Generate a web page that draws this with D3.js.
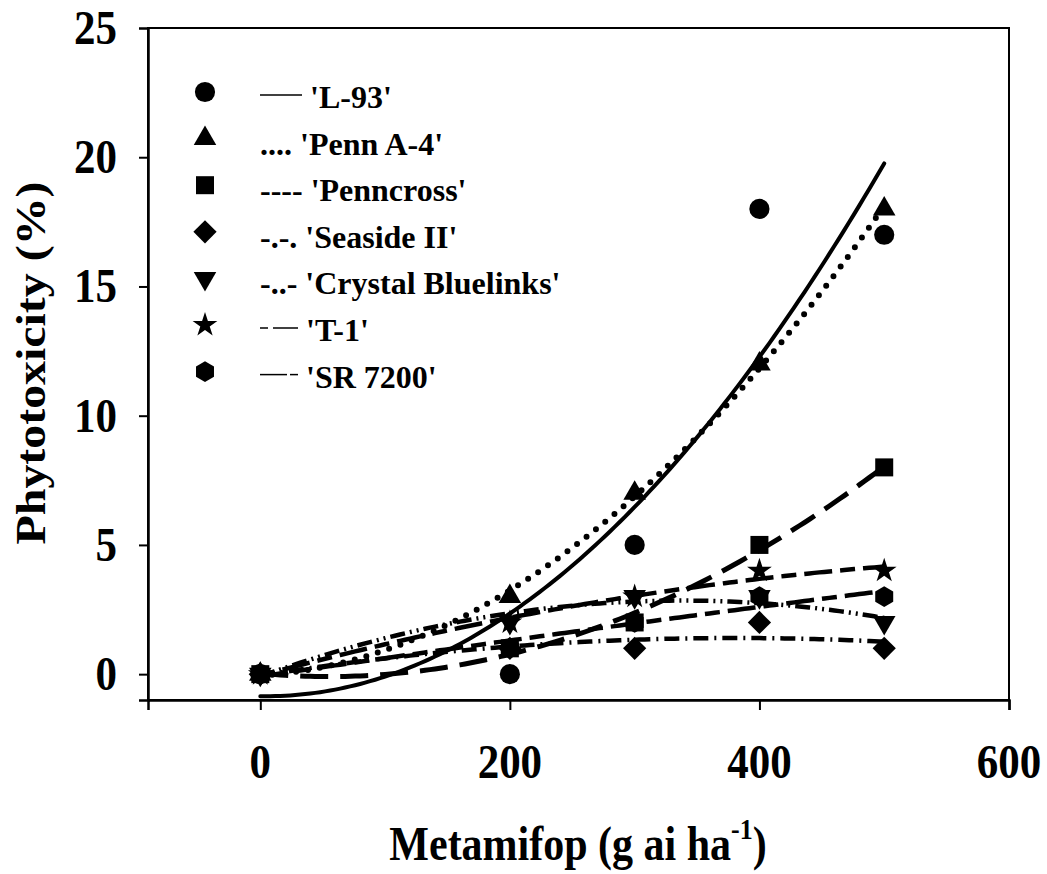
<!DOCTYPE html>
<html>
<head>
<meta charset="utf-8">
<script src="https://cdn.jsdelivr.net/npm/d3@7"></script>
<style>
  html, body { margin: 0; padding: 0; background: #fff; }
  svg { display: block; }
  text { font-family: "Liberation Serif", "Times New Roman", serif; font-weight: bold; fill: #000; }
</style>
</head>
<body>
<svg id="chart" width="1047" height="874"></svg>
<script>
// ---------- data ----------
const doses = [0, 200, 300, 400, 500];
const cultivars = ["'L-93'", "'Penn A-4'", "'Penncross'", "'Seaside II'", "'Crystal Bluelinks'", "'T-1'", "'SR 7200'"];
const legendPrefixes = ["", "....", "----", "-.-.", "-..-", "", ""];
const l93 = [0, 0, 5, 18, 17];
const pennA4 = [0, 3, 7, 12, 18];
const penncross = [0, 1, 2, 5, 8];
const seasideII = [0, 1, 1, 2, 1];
const crystalBluelinks = [0, 2, 3, 3, 2];
const t1 = [0, 2, 3, 4, 4];
const sr7200 = [0, 1, 2, 3, 3];
const xTicks = [0, 200, 400, 600];
const yTicks = [0, 5, 10, 15, 20, 25];
const seriesValues = [l93, pennA4, penncross, seasideII, crystalBluelinks, t1, sr7200];

// ---------- styles ----------
const dashes = [null, "0 12", "28 12", "15 6 2 6", "15 5 2 5 2 5", "15 8 28 8", "28 8 15 8"];
const widths = [4, 6, 5, 4.5, 4.5, 4.5, 4.5];
const caps = ["round", "round", "butt", "butt", "butt", "butt", "butt"];

const hexagon = {
  draw(ctx, size) {
    const r = Math.sqrt(size / (1.5 * Math.sqrt(3)));
    for (let i = 0; i < 6; i++) {
      const a = Math.PI / 2 + i * Math.PI / 3;
      const x = r * Math.cos(a), y = r * Math.sin(a);
      if (i === 0) ctx.moveTo(x, y); else ctx.lineTo(x, y);
    }
    ctx.closePath();
  }
};
const symbols = [
  {type: d3.symbolCircle, size: 320, rot: 0},
  {type: d3.symbolTriangle, size: 220, rot: 0},
  {type: d3.symbolSquare, size: 324, rot: 0},
  {type: d3.symbolSquare, size: 270, rot: 45},
  {type: d3.symbolTriangle, size: 220, rot: 180},
  {type: d3.symbolStar, size: 190, rot: 0},
  {type: hexagon, size: 280, rot: 0}
];

// ---------- quadratic least-squares fit (trend lines) ----------
function quadFit(xs, ys) {
  let S = [0,0,0,0,0], T = [0,0,0];
  xs.forEach((x, i) => {
    for (let k = 0; k < 5; k++) S[k] += Math.pow(x, k);
    for (let k = 0; k < 3; k++) T[k] += ys[i] * Math.pow(x, k);
  });
  const M = [[S[0],S[1],S[2]],[S[1],S[2],S[3]],[S[2],S[3],S[4]]];
  const det = m => m[0][0]*(m[1][1]*m[2][2]-m[1][2]*m[2][1]) - m[0][1]*(m[1][0]*m[2][2]-m[1][2]*m[2][0]) + m[0][2]*(m[1][0]*m[2][1]-m[1][1]*m[2][0]);
  const D = det(M);
  const coef = [0,1,2].map(c => det(M.map((row, r) => row.map((v, j) => j === c ? T[r] : v))) / D);
  return x => coef[0] + coef[1]*x + coef[2]*x*x;
}

// ---------- chart ----------
const svg = d3.select("#chart");
const x = d3.scaleLinear().domain([-90, 600]).range([148, 1009]);
const y = d3.scaleLinear().domain([-1, 25]).range([700, 28]);
const stretch = 1.14;

// frame
svg.append("rect").attr("x", 148).attr("y", 28).attr("width", 1009 - 148).attr("height", 700 - 28)
  .attr("fill", "none").attr("stroke", "#000").attr("stroke-width", 2);

// x axis
const xAxis = svg.append("g").attr("transform", "translate(0,700)")
  .call(d3.axisBottom(x).tickValues(xTicks).tickSize(10).tickFormat(""));
xAxis.select(".domain").attr("stroke-width", 2.5);
xAxis.selectAll(".tick line").attr("stroke-width", 2);
xTicks.forEach(v => {
  svg.append("text").attr("text-anchor", "middle").attr("font-size", 43)
    .attr("transform", `translate(${x(v)},778) scale(1,${stretch})`).text(v);
});

// y axis
const yAxis = svg.append("g").attr("transform", "translate(148,0)")
  .call(d3.axisLeft(y).tickValues(yTicks.filter(v => v < 25)).tickSize(9).tickFormat(""));
yAxis.select(".domain").attr("stroke-width", 2.5);
yAxis.selectAll(".tick line").attr("stroke-width", 2);
yTicks.forEach(v => {
  svg.append("text").attr("text-anchor", "end").attr("font-size", 43)
    .attr("transform", `translate(117,${y(v) + 16}) scale(1,${stretch})`).text(v);
});

// axis titles
const xt = svg.append("text").attr("text-anchor", "middle").attr("font-size", 42)
  .attr("transform", `translate(578,860) scale(1,${stretch})`);
xt.append("tspan").text("Metamifop (g ai ha");
xt.append("tspan").attr("font-size", 26).attr("dy", -18).text("-1");
xt.append("tspan").attr("dy", 18).text(")");

svg.append("text").attr("text-anchor", "middle").attr("font-size", 42)
  .attr("transform", `translate(45,363) scale(1,${stretch}) rotate(-90)`)
  .text("Phytotoxicity (%)");

// fitted curves
const line = d3.line().x(d => x(d[0])).y(d => y(d[1]));
seriesValues.forEach((vals, i) => {
  const f = quadFit(doses, vals);
  const pts = d3.range(0, 500.1, 4).map(d => [d, f(d)]);
  svg.append("path").datum(pts).attr("d", line)
    .attr("fill", "none").attr("stroke", "#000")
    .attr("stroke-width", widths[i]).attr("stroke-linecap", caps[i])
    .attr("stroke-dasharray", dashes[i]);
});

// markers
seriesValues.forEach((vals, i) => {
  const s = symbols[i];
  const path = d3.symbol().type(s.type).size(s.size)();
  svg.append("g").selectAll("path").data(doses.map((d, j) => [d, vals[j]])).join("path")
    .attr("d", path)
    .attr("transform", d => `translate(${x(d[0])},${y(d[1])}) rotate(${s.rot})`)
    .attr("fill", "#000");
});

// legend
const legY = i => 92 + i * 46.6;
cultivars.forEach((name, i) => {
  const s = symbols[i];
  svg.append("path").attr("d", d3.symbol().type(s.type).size(s.size)())
    .attr("transform", `translate(205,${legY(i)}) rotate(${s.rot})`).attr("fill", "#000");
  const t = svg.append("text").attr("font-size", 32).attr("x", i === 0 ? 310 : (i >= 5 ? 306 : 260)).attr("y", legY(i) + 16);
  t.text(legendPrefixes[i] ? legendPrefixes[i] + " " + name : name);
});
// thin-line legend samples
const legLines = [
  [0, [[260, 302]]],
  [5, [[260, 268], [273, 298]]],
  [6, [[260, 287], [290, 298]]]
];
legLines.forEach(([i, segs]) => {
  segs.forEach(sg => {
    svg.append("line").attr("x1", sg[0]).attr("x2", sg[1])
      .attr("y1", legY(i) + 3).attr("y2", legY(i) + 3)
      .attr("stroke", "#000").attr("stroke-width", 1.5);
  });
});
</script>
</body>
</html>
